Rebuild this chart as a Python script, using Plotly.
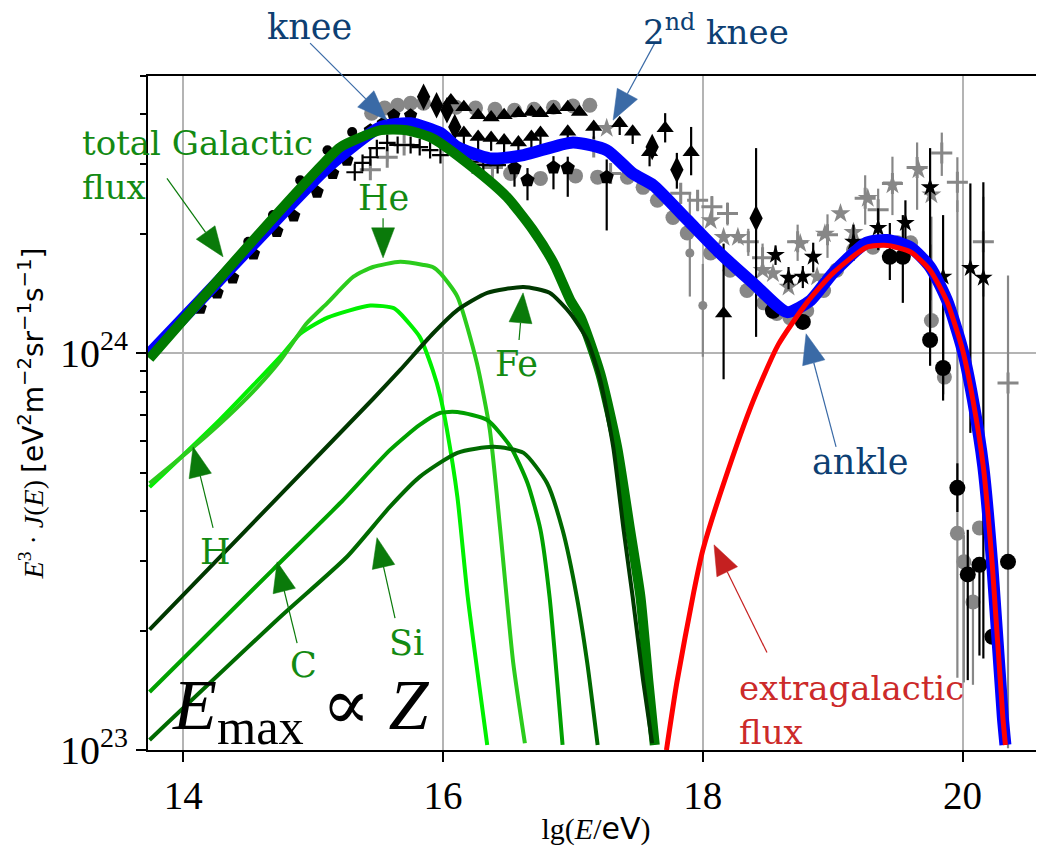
import numpy as np
import plotly.graph_objects as go

# ---------------- model curves: lg(E/eV) and E^3 J(E) [eV^2 m^-2 sr^-1 s^-1] ----------------
lgE_total = [13.73, 14.13, 14.57, 15.11, 15.52, 15.75, 15.98, 16.11, 16.36, 16.62, 17.00, 17.26, 17.46,
             17.62, 17.88, 18.13, 18.39, 18.65, 18.83, 19.00, 19.26, 19.42, 19.60, 19.75, 19.88, 20.00,
             20.08, 20.16, 20.23, 20.31, 20.33]
flux_total = [0.99e24, 1.36e24, 1.93e24, 2.94e24, 3.72e24, 3.80e24, 3.59e24, 3.31e24, 3.10e24, 3.16e24,
              3.40e24, 3.25e24, 2.84e24, 2.65e24, 2.17e24, 1.79e24, 1.50e24, 1.27e24, 1.36e24, 1.59e24,
              1.90e24, 1.93e24, 1.85e24, 1.65e24, 1.36e24, 1.02e24, 7.62e23, 5.17e23, 2.89e23, 1.21e23, 1.03e23]

lgE_gal = [13.74, 14.54, 15.08, 15.21, 15.52, 15.72, 15.92, 16.23, 16.49, 16.69, 16.85, 16.98, 17.06,
           17.21, 17.34, 17.44, 17.52, 17.58, 17.63]
flux_gal = [0.97e24, 1.93e24, 3.01e24, 3.31e24, 3.65e24, 3.65e24, 3.48e24, 2.94e24, 2.48e24, 2.05e24,
            1.69e24, 1.36e24, 1.23e24, 8.9e23, 5.81e23, 3.59e23, 2.43e23, 1.50e23, 1.03e23]

lgE_xgal = [17.72, 17.80, 17.93, 18.00, 18.17, 18.39, 18.58, 18.80, 19.00, 19.26, 19.42, 19.60, 19.75,
            19.88, 20.00, 20.08, 20.16, 20.23, 20.31, 20.33]
flux_xgal = [1.0e23, 1.48e23, 2.50e23, 3.19e23, 4.80e23, 7.62e23, 1.05e24, 1.34e24, 1.59e24, 1.85e24,
             1.87e24, 1.80e24, 1.62e24, 1.35e24, 1.02e24, 7.62e23, 5.17e23, 2.89e23, 1.21e23, 1.03e23]

lgE_H = [13.74, 14.28, 14.77, 14.90, 15.11, 15.44, 15.62, 15.67, 15.82, 15.92, 15.98, 16.03, 16.11, 16.19, 16.34]
flux_H = [4.60e23, 6.79e23, 1.00e24, 1.12e24, 1.23e24, 1.32e24, 1.30e24, 1.26e24, 1.10e24, 9.08e23,
          7.76e23, 6.41e23, 4.35e23, 2.43e23, 1.03e23]

lgE_He = [13.74, 14.08, 14.34, 14.57, 14.75, 14.95, 15.11, 15.31, 15.46, 15.67, 15.85, 15.92, 15.98,
          16.11, 16.26, 16.36, 16.44, 16.54, 16.63]
flux_He = [4.70e23, 5.81e23, 6.92e23, 8.22e23, 9.62e23, 1.19e24, 1.34e24, 1.56e24, 1.65e24, 1.70e24,
           1.67e24, 1.65e24, 1.59e24, 1.39e24, 9.46e23, 6.41e23, 3.59e23, 1.66e23, 1.04e23]

lgE_C = [13.74, 14.69, 15.21, 15.59, 15.82, 15.98, 16.11, 16.34, 16.52, 16.65, 16.75, 16.82, 16.92]
flux_C = [1.40e23, 2.85e23, 4.20e23, 5.70e23, 6.60e23, 7.08e23, 7.11e23, 6.79e23, 5.81e23,
          4.71e23, 3.59e23, 2.43e23, 1.03e23]

lgE_Si = [13.74, 14.75, 15.26, 15.59, 15.82, 16.11, 16.39, 16.62, 16.80, 16.92, 17.03, 17.11, 17.19]
flux_Si = [1.06e23, 2.17e23, 3.07e23, 4.10e23, 4.88e23, 5.61e23, 5.81e23, 5.61e23, 4.71e23, 3.59e23,
           2.43e23, 1.66e23, 1.03e23]

lgE_Fe = [13.74, 14.69, 15.46, 15.67, 15.92, 16.11, 16.34, 16.62, 16.82, 16.98, 17.11, 17.21, 17.31,
          17.39, 17.46, 17.54, 17.61]
flux_Fe = [2.01e23, 4.21e23, 7.67e23, 9.08e23, 1.12e24, 1.285e24, 1.42e24, 1.47e24, 1.42e24, 1.26e24,
           1.08e24, 8.57e23, 5.81e23, 3.59e23, 2.43e23, 1.50e23, 1.04e23]

# ---------------- measurements ----------------
lg_dots = [14.23, 14.50, 14.69, 14.90, 15.11, 15.30]
f_dots = [1.43e24, 1.91e24, 2.23e24, 2.73e24, 3.25e24, 3.61e24]

lg_pent = [14.13, 14.26, 14.38, 14.54, 14.72, 14.85, 15.03, 15.15, 15.26, 15.44, 15.54, 15.62, 15.75]
f_pent = [1.30e24, 1.42e24, 1.55e24, 1.78e24, 2.03e24, 2.22e24, 2.55e24, 2.84e24, 3.07e24, 3.65e24,
          3.80e24, 3.98e24, 3.98e24]

lg_pent2 = [16.55, 16.65, 16.85, 16.96, 17.26]
f_pent2 = [2.93e24, 2.73e24, 2.94e24, 2.93e24, 2.78e24]
f_pent2_up = [0.2e24, 0.2e24, 0.2e24, 0.2e24, 0.3e24]
f_pent2_dn = [0.3e24, 0.3e24, 0.35e24, 0.45e24, 0.74e24]

lg_gcirc = [15.45, 15.55, 15.65, 15.75, 15.85, 16.10, 16.25, 16.40, 16.55, 16.70, 16.85, 17.00, 17.13,
            16.52, 16.75, 17.02, 17.19,
            17.42, 17.54, 17.65, 17.77, 17.88, 18.06, 18.21, 18.34, 18.47, 18.57, 18.67, 18.80, 18.93,
            19.03, 19.16, 19.31, 19.50, 19.60, 19.76, 19.86, 19.96, 20.01, 20.08, 20.13]
f_gcirc = [4.03e24, 4.15e24, 4.22e24, 4.27e24, 4.27e24, 4.17e24, 4.15e24, 4.12e24, 4.10e24, 4.12e24,
           4.17e24, 4.20e24, 4.22e24,
           2.84e24, 2.76e24, 2.80e24, 2.78e24,
           2.78e24, 2.62e24, 2.43e24, 2.20e24, 2.01e24, 1.79e24, 1.62e24, 1.44e24, 1.34e24, 1.26e24,
           1.23e24, 1.28e24, 1.44e24, 1.62e24, 1.82e24, 1.85e24, 1.90e24, 1.90e24, 1.21e24, 8.71e23,
           3.52e23, 2.98e23, 2.36e23, 3.63e23]
f_gcirc_up = [0] * 35 + [1.0e24, 0, 2.08e24, 0.5e23, 0.5e23, 0]
f_gcirc_dn = [0] * 35 + [0, 0, 2.0e23, 1.5e23, 0.9e23, 0]

lg_bcirc = [18.54, 18.77, 19.44, 19.54, 19.75, 19.85, 19.96, 20.04, 20.13, 20.23, 20.35]
f_bcirc = [1.28e24, 1.20e24, 1.75e24, 1.75e24, 1.08e24, 9.18e23, 4.58e23, 2.77e23, 2.93e23, 1.93e23, 2.98e23]
f_bcirc_up = [0, 0, 0.38e24, 0.48e24, 0.8e24, 0.47e24, 0.7e23, 0.82e23, 0.05e23, 0, 0]
f_bcirc_dn = [0, 0, 0.22e24, 0.41e24, 0.15e24, 0.13e24, 0.6e23, 1.27e23, 1.2e23, 0, 0]

lg_gplus = [15.44, 15.57, 15.70, 16.23, 16.38, 17.16, 17.29, 17.83, 17.96, 18.07, 18.19, 18.35, 18.46,
            18.73, 18.96, 19.25, 19.35, 19.46, 19.65, 19.84, 19.96, 20.16, 20.35]
f_gplus = [2.90e24, 3.12e24, 3.35e24, 3.01e24, 2.94e24, 3.31e24, 2.84e24, 2.53e24, 2.43e24, 2.34e24,
           2.25e24, 1.91e24, 1.74e24, 1.91e24, 1.99e24, 2.46e24, 2.30e24, 2.68e24, 2.94e24, 3.20e24,
           2.70e24, 1.91e24, 8.41e23]
f_gplus_up = [0.08e24] * 7 + [0.15e24] * 6 + [0.2e24, 0.25e24, 0.35e24, 0.3e24, 0.45e24, 0.46e24,
                                              0.4e24, 0.42e24, 0.57e24, 0.73e24]
f_gplus_dn = [0.08e24] * 7 + [0.15e24] * 6 + [0.2e24, 0.25e24, 0.35e24, 0.3e24, 0.45e24, 0.64e24,
                                              0.4e24, 0.43e24, 0.52e24, 7.4e23]

lg_tri = [16.06, 16.16, 16.27, 16.37, 16.47, 16.58, 16.68, 16.75, 16.85, 16.96, 17.05]
f_tri = [4.34e24, 4.17e24, 3.98e24, 3.93e24, 3.98e24, 4.03e24, 4.06e24, 4.03e24, 4.10e24, 4.17e24, 4.06e24]

lg_tri2 = [16.16, 16.27, 16.37, 16.47, 16.58, 16.68, 16.75, 16.96, 17.16, 17.36, 17.46, 17.59, 17.71, 17.91, 18.16]
f_tri2 = [3.59e24, 3.51e24, 3.49e24, 3.44e24, 3.40e24, 3.51e24, 3.59e24, 3.62e24, 3.72e24, 3.80e24,
          3.62e24, 3.21e24, 3.69e24, 3.21e24, 1.26e24]
f_tri2_up = [0.05e24] * 12 + [0.34e24, 0.51e24, 0.63e24]
f_tri2_dn = [0.25e24] * 12 + [0.29e24, 0.40e24, 0.40e24]

lg_dia = [15.85, 15.95, 16.03, 16.09, 17.61, 17.80, 18.41]
f_dia = [4.43e24, 4.22e24, 4.10e24, 3.72e24, 3.31e24, 2.90e24, 2.19e24]
f_dia_up = [0, 0, 0, 0, 0.1e24, 0.3e24, 1.1e24]
f_dia_dn = [0, 0, 0, 0, 0.1e24, 0.3e24, 1.09e24]

lg_bplus = [15.32, 15.38, 15.44, 15.49, 15.57, 15.65, 15.75, 15.82, 15.90, 15.98, 16.21, 16.31, 16.42]
f_bplus = [2.86e24, 3.02e24, 3.12e24, 3.29e24, 3.39e24, 3.35e24, 3.35e24, 3.31e24, 3.25e24, 3.16e24,
           3.04e24, 2.98e24, 2.98e24]

lg_gstar = [17.26, 18.06, 18.16, 18.27, 18.46, 18.54, 18.66, 18.75, 18.88, 18.94, 19.06, 19.16, 19.27,
            19.46, 19.66, 19.76]
f_gstar = [3.69e24, 2.16e24, 1.96e24, 1.96e24, 1.62e24, 1.59e24, 1.47e24, 1.89e24, 1.56e24, 2.00e24,
           2.25e24, 2.02e24, 2.46e24, 2.66e24, 2.90e24, 2.51e24]

lg_bstar = [18.56, 18.66, 18.77, 18.85, 19.16, 19.35, 19.56, 19.75, 19.85, 20.06, 20.16]
f_bstar = [1.77e24, 1.55e24, 1.56e24, 1.75e24, 1.91e24, 2.07e24, 2.13e24, 2.62e24, 1.56e24, 1.64e24, 1.55e24]
f_bstar_up = [0.1e24, 0.1e24, 0.1e24, 0.15e24, 0.2e24, 0.25e24, 0.3e24, 0.67e24, 0.67e24, 1.04e24, 1.15e24]
f_bstar_dn = [0.1e24, 0.1e24, 0.1e24, 0.15e24, 0.2e24, 0.25e24, 0.3e24, 1.26e24, 0.8e24, 1.01e24, 1.38e24]

lg_gdot = [17.90, 18.00]
f_gdot = [1.79e24, 1.32e24]
f_gdot_up = [0.73e24, 0.36e24]
f_gdot_dn = [0.40e24, 0.34e24]

x_tickvals = [14, 16, 18, 20]
y_tickvals = [1e23, 1e24]
y_ticktext = ["10<sup>23</sup>", "10<sup>24</sup>"]
y_minor = [2e23, 3e23, 4e23, 5e23, 6e23, 7e23, 8e23, 9e23, 2e24, 3e24, 4e24, 5e24]

# ---------------- layout geometry (page has an 8px body margin) ----------------
W, H = 1036, 839
ML, MR, MT, MB = 140, 0, 68, 97
PW, PH = W - ML - MR, H - MT - MB
X0, X1 = 13.728, 20.627
Y0, Y1 = 23.0, float(np.log10(5e24))


def to_px(lg, f):
    return ML + (lg - X0) / (X1 - X0) * PW, MT + (Y1 - np.log10(f)) / (Y1 - Y0) * PH


def to_paper(px, py):
    return (px - ML) / PW, (MT + PH - py) / PH


fig = go.Figure()

GREY = '#878787'


def add_markers(x, y, symbol, size, color, eu=None, ed=None, lw=0, ecolor=None):
    kw = {}
    if eu is not None:
        kw['error_y'] = dict(type='data', symmetric=False, array=eu, arrayminus=ed,
                             color=ecolor or color, thickness=2.2, width=0)
    marker = dict(symbol=symbol, size=size, color=color, line=dict(width=lw, color=color))
    fig.add_trace(go.Scatter(x=x, y=y, mode='markers', marker=marker, showlegend=False, **kw))


add_markers(lg_gcirc, f_gcirc, 'circle', 15, GREY, f_gcirc_up, f_gcirc_dn)
add_markers(lg_gplus, f_gplus, 'cross-thin', 15, GREY, f_gplus_up, f_gplus_dn, lw=3)
add_markers(lg_gstar, f_gstar, 'star', 15, GREY)
add_markers(lg_gdot, f_gdot, 'circle', 9, GREY, f_gdot_up, f_gdot_dn)
add_markers(lg_dots, f_dots, 'circle', 10, 'black')
add_markers(lg_pent, f_pent, 'pentagon', 14, 'black')
add_markers(lg_pent2, f_pent2, 'pentagon', 15, 'black', f_pent2_up, f_pent2_dn)
add_markers(lg_bplus, f_bplus, 'cross-thin', 12, 'black', lw=2.2)
add_markers(lg_tri, f_tri, 'triangle-up', 15, 'black')
add_markers(lg_tri2, f_tri2, 'triangle-up', 15, 'black', f_tri2_up, f_tri2_dn)
add_markers(lg_dia, f_dia, 'diamond-tall', 19, 'black', f_dia_up, f_dia_dn)
add_markers(lg_bcirc, f_bcirc, 'circle', 16, 'black', f_bcirc_up, f_bcirc_dn)
add_markers(lg_bstar, f_bstar, 'star', 14, 'black', f_bstar_up, f_bstar_dn)


def add_line(x, y, color, width, smooth=0.6):
    fig.add_trace(go.Scatter(x=x, y=y, mode='lines', showlegend=False,
                             line=dict(color=color, width=width, shape='spline', smoothing=smooth)))


add_line(lgE_total, flux_total, '#0000ff', 12)
add_line(lgE_xgal, flux_xgal, '#ff0000', 5)
add_line(lgE_gal, flux_gal, '#007a00', 10)
add_line(lgE_H, flux_H, '#00f000', 4)
add_line(lgE_He, flux_He, '#2bcc1c', 4)
add_line(lgE_C, flux_C, '#00a000', 4)
add_line(lgE_Si, flux_Si, '#006a00', 4)
add_line(lgE_Fe, flux_Fe, '#003800', 4)

# ---------------- annotations ----------------
NAVY = '#0d3f73'
ABLUE = '#3a6aa6'
GTXT = '#138a13'
AGREEN = '#0a7a0a'
RTXT = '#cc2a2a'
ARED = '#c52020'
SERIF = 'DejaVu Serif'

labels = [
    ("knee", 14.968, 6.64e24, NAVY, 35, 'center'),
    ("2<sup>nd</sup> knee", 18.102, 6.52e24, NAVY, 34, 'center'),
    ("total Galactic<br>flux", 13.205, 2.98e24, GTXT, 34, 'left'),
    ("He", 15.538, 2.46e24, GTXT, 35, 'center'),
    ("H", 14.244, 3.16e23, GTXT, 35, 'center'),
    ("C", 14.922, 1.64e23, GTXT, 35, 'center'),
    ("Si", 15.715, 1.86e23, GTXT, 35, 'center'),
    ("Fe", 16.562, 9.40e23, GTXT, 35, 'center'),
    ("ankle", 19.211, 5.32e23, NAVY, 35, 'center'),
    ("extragalactic<br>flux", 18.264, 1.26e23, RTXT, 34, 'left'),
]
for text, lg, f, col, size, anchor in labels:
    xp, yp = to_paper(*to_px(lg, f))
    fig.add_annotation(text=text, x=xp, y=yp, xref='paper', yref='paper', showarrow=False,
                       xanchor=anchor, yanchor='middle', align='left',
                       font=dict(family=SERIF, size=size, color=col))

xp, yp = to_paper(*to_px(14.90, 1.27e23))
fig.add_annotation(text="<i>E</i><sub>max</sub> <span style='font-family:DejaVu Serif'>∝</span> <i>Z</i>",
                   x=xp, y=yp, xref='paper', yref='paper',
                   showarrow=False, xanchor='center', yanchor='middle',
                   font=dict(family='Liberation Serif', size=72, color='black'))

arrows = [
    ((14.976, 6.05e24), (15.568, 3.87e24), ABLUE),
    ((17.630, 6.05e24), (17.309, 3.87e24), ABLUE),
    ((13.874, 2.76e24), (14.306, 1.75e24), AGREEN),
    ((15.538, 2.19e24), (15.538, 1.74e24), AGREEN),
    ((14.229, 3.63e23), (14.075, 5.81e23), AGREEN),
    ((14.876, 1.86e23), (14.722, 2.98e23), AGREEN),
    ((15.630, 2.15e23), (15.491, 3.43e23), AGREEN),
    ((16.585, 1.08e24), (16.616, 1.42e24), AGREEN),
    ((19.026, 5.81e23), (18.795, 1.12e24), ABLUE),
    ((18.494, 1.76e23), (18.086, 3.29e23), ARED),
]
HEAD_L, HEAD_HW = 30.0, 11.5
for (tl, tf), (hl, hf), col in arrows:
    x1, y1 = to_px(tl, tf)
    x2, y2 = to_px(hl, hf)
    d = np.hypot(x2 - x1, y2 - y1)
    ux, uy = (x2 - x1) / d, (y2 - y1) / d
    bx, by = x2 - ux * HEAD_L, y2 - uy * HEAD_L
    px_, py_ = -uy, ux
    a = to_paper(x1, y1)
    b = to_paper(bx, by)
    fig.add_shape(type='line', xref='paper', yref='paper', x0=a[0], y0=a[1], x1=b[0], y1=b[1],
                  line=dict(color=col, width=1.2), layer='above')
    p1 = to_paper(bx + px_ * HEAD_HW, by + py_ * HEAD_HW)
    p2 = to_paper(bx - px_ * HEAD_HW, by - py_ * HEAD_HW)
    p3 = to_paper(x2, y2)
    path = f"M {p1[0]:.5f} {p1[1]:.5f} L {p3[0]:.5f} {p3[1]:.5f} L {p2[0]:.5f} {p2[1]:.5f} Z"
    fig.add_shape(type='path', xref='paper', yref='paper', path=path, fillcolor=col,
                  line=dict(color=col, width=0.5), layer='above')

ytitle = ("<i>E</i><sup>3</sup> · <i>J</i>(<i>E</i>) "
          "<span style='font-family:DejaVu Sans'>[eV<sup>2</sup>m<sup>−2</sup>sr<sup>−1</sup>s<sup>−1</sup>]</span>")
xtitle = "lg(<i>E</i>/<span style='font-family:DejaVu Sans'>eV</span>)"

fig.update_layout(
    width=W, height=H, margin=dict(l=ML, r=MR, t=MT, b=MB, autoexpand=False),
    plot_bgcolor='white', paper_bgcolor='white', showlegend=False,
    xaxis=dict(range=[X0, X1], tickvals=x_tickvals, ticks='outside', ticklen=10, tickwidth=1.5,
               tickcolor='black', showline=True, linecolor='black', linewidth=2, mirror=True,
               showgrid=True, gridcolor='#b4b4b4', gridwidth=1.5, zeroline=False,
               tickfont=dict(family='Liberation Serif', size=39, color='black'),
               title=dict(text=xtitle, font=dict(family='Liberation Serif', size=30, color='black'),
                          standoff=2)),
    yaxis=dict(type='log', range=[Y0, Y1], tickvals=y_tickvals, ticktext=y_ticktext, ticks='outside',
               ticklen=10, tickwidth=1.5, tickcolor='black', showline=True, linecolor='black',
               linewidth=2, mirror=False, showgrid=True, gridcolor='#b4b4b4', gridwidth=1.5,
               zeroline=False, tickfont=dict(family='Liberation Serif', size=40, color='black'),
               minor=dict(tickvals=y_minor, ticks='outside', ticklen=6, tickwidth=1.5,
                          tickcolor='black', showgrid=False),
               title=dict(text=ytitle, font=dict(family='Liberation Serif', size=28, color='black'),
                          standoff=8)),
)

fig.write_html("out.html")
